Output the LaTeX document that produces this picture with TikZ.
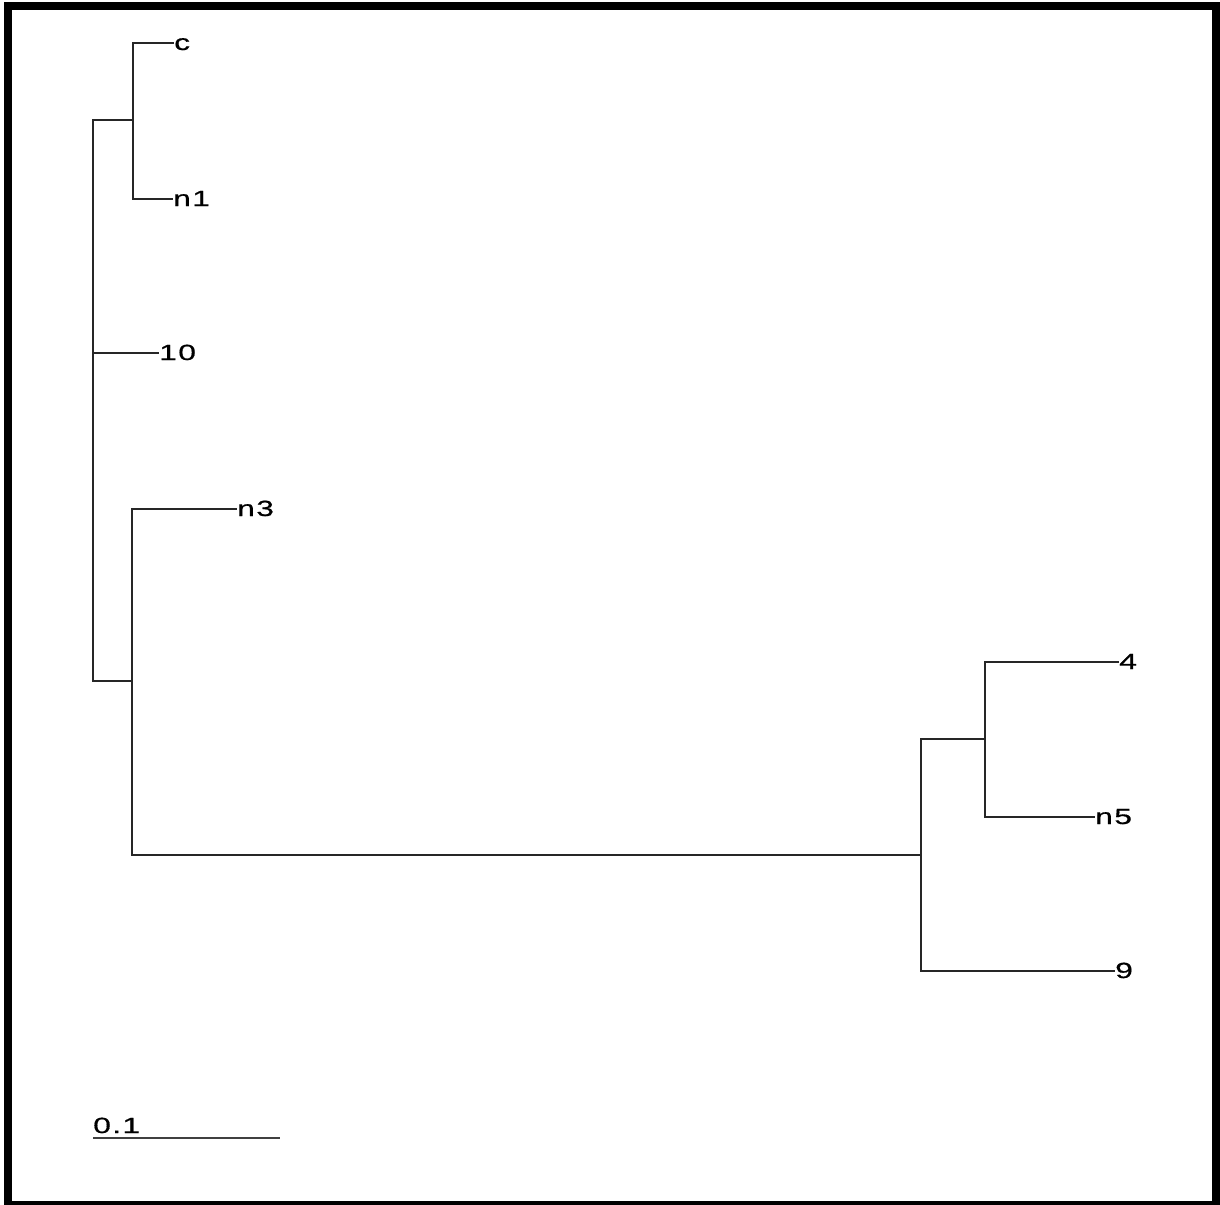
\documentclass[tikz,border=0pt]{standalone}
\usepackage{fontspec}
\newfontfamily\treefont[FakeStretch=1.45,LetterSpace=6,FakeBold=0.6]{Liberation Sans}
\tikzset{
  branch/.style={line width=1.5pt,black!85,line cap=rect},
  tip/.style={anchor=base west,inner sep=1pt,yshift=-7pt,font=\treefont\fontsize{22}{22}\selectfont}
}
\begin{document}
\begin{tikzpicture}[x=1pt,y=-1pt]
\useasboundingbox (0,0) rectangle (1220,1204);
\draw[line width=8pt] (8,6) rectangle (1216,1205);
\coordinate (r) at (93,353);
\coordinate (a) at (133,120);
\coordinate (b) at (132,681);
\coordinate (d) at (921,855);
\coordinate (e) at (985,739);
\coordinate (tc) at (173,43);
\coordinate (tn1) at (172,199);
\coordinate (t10) at (158,353);
\coordinate (tn3) at (236,509);
\coordinate (t4) at (1118,662);
\coordinate (tn5) at (1094,817);
\coordinate (t9) at (1114,971);
\node[tip] (c) at (tc) {c};
\node[tip] (n1) at (tn1) {n1};
\node[tip] (l10) at (t10) {10};
\node[tip] (n3) at (tn3) {n3};
\node[tip] (l4) at (t4) {4};
\node[tip] (n5) at (tn5) {n5};
\node[tip] (l9) at (t9) {9};
\draw[branch] (r) |- (a) (r) |- (t10) (r) |- (b);
\draw[branch] (a) |- (tc) (a) |- (tn1);
\draw[branch] (b) |- (tn3) (b) |- (d);
\draw[branch] (d) |- (e) (d) |- (t9);
\draw[branch] (e) |- (t4) (e) |- (tn5);
\coordinate (s0) at (93,1138);
\coordinate (s1) at (280,1138);
\draw[line width=1.2pt,black!75] (s0) -- (s1);
\node[tip,inner sep=0pt] (scale) at (93,1126) {0.1};
\end{tikzpicture}
\end{document}
